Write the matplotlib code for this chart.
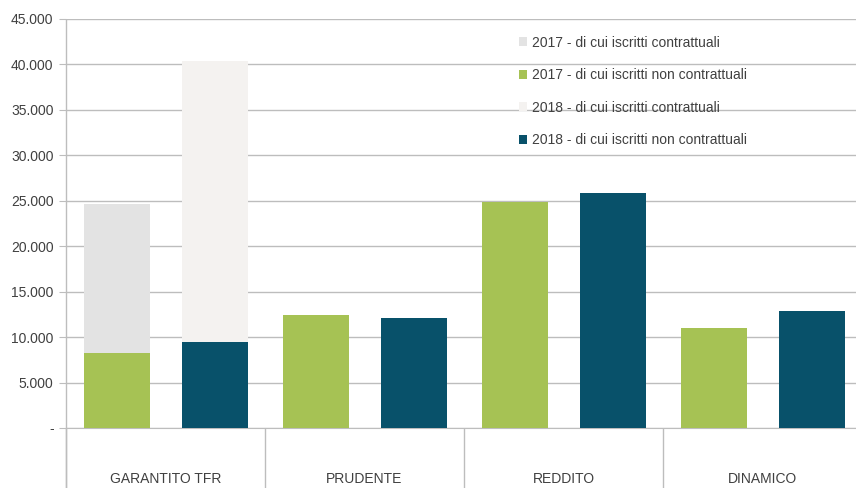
import matplotlib.pyplot as plt
import matplotlib.transforms as mtransforms
import numpy as np
from matplotlib.ticker import FuncFormatter

plt.rcParams['font.family'] = ['Liberation Sans Narrow', 'Liberation Sans', 'DejaVu Sans']

categories = ["GARANTITO TFR", "PRUDENTE", "REDDITO", "DINAMICO"]
contr_2017 = [16300, 0, 0, 0]
non_contr_2017 = [8300, 12400, 24900, 11000]
contr_2018 = [30900, 0, 0, 0]
non_contr_2018 = [9500, 12100, 25900, 12900]

green = "#a6c254"
teal = "#08516a"
grey17 = "#e3e3e3"
grey18 = "#f4f2f0"
gridc = "#bdbdbd"
textc = "#404040"

fig = plt.figure(figsize=(8.56, 4.88), dpi=100)
# axes: left 66px, zero line at y=428, top (45.000) at y=19
ax = fig.add_axes([66 / 856, (488 - 428) / 488, 790 / 856, 409 / 488])

x = np.arange(len(categories))
w = 0.33
off17, off18 = -0.245, 0.25

ax.bar(x + off17, non_contr_2017, w, color=green, label="2017 - di cui iscritti non contrattuali", zorder=3)
ax.bar(x + off17, contr_2017, w, bottom=non_contr_2017, color=grey17, label="2017 - di cui iscritti contrattuali", zorder=3)
ax.bar(x + off18, non_contr_2018, w, color=teal, label="2018 - di cui iscritti non contrattuali", zorder=3)
ax.bar(x + off18, contr_2018, w, bottom=non_contr_2018, color=grey18, label="2018 - di cui iscritti contrattuali", zorder=3)

ax.set_ylim(0, 45000)
ax.set_xlim(-0.5, -0.5 + 790 / 199)
ax.set_yticks(np.arange(0, 45001, 5000))
ax.yaxis.set_major_formatter(FuncFormatter(
    lambda v, p: "-" if v == 0 else f"{int(v):,}".replace(",", ".")))
ax.grid(axis="y", color=gridc, linewidth=1, zorder=0)
ax.tick_params(axis="y", length=5, color=gridc, labelsize=10, labelcolor=textc, pad=4)

for s in ["top", "right"]:
    ax.spines[s].set_visible(False)
ax.spines["left"].set_visible(False)
ax.spines["bottom"].set_color(gridc)

# category separators running down through the label area
trans = mtransforms.blended_transform_factory(ax.transData, ax.transAxes)
ax.vlines(np.arange(len(categories)) - 0.5, -0.15, 0, transform=trans,
          color=gridc, linewidth=1, clip_on=False)
ax.vlines([-0.5], -0.15, 1, transform=trans, color=gridc, linewidth=1, clip_on=False)

ax.set_xticks(x)
ax.set_xticklabels(categories)
ax.tick_params(axis="x", length=0, labelsize=10, labelcolor=textc, pad=32)

handles, labels = ax.get_legend_handles_labels()
order = [1, 0, 3, 2]
leg = ax.legend([handles[i] for i in order], [labels[i] for i in order],
                loc="upper left", bbox_to_anchor=(0.557, 0.99), frameon=False,
                fontsize=10, labelcolor=textc, handlelength=0.6, handleheight=0.6,
                handletextpad=0.4, labelspacing=1.33)

fig.savefig("out.png", dpi=100)
